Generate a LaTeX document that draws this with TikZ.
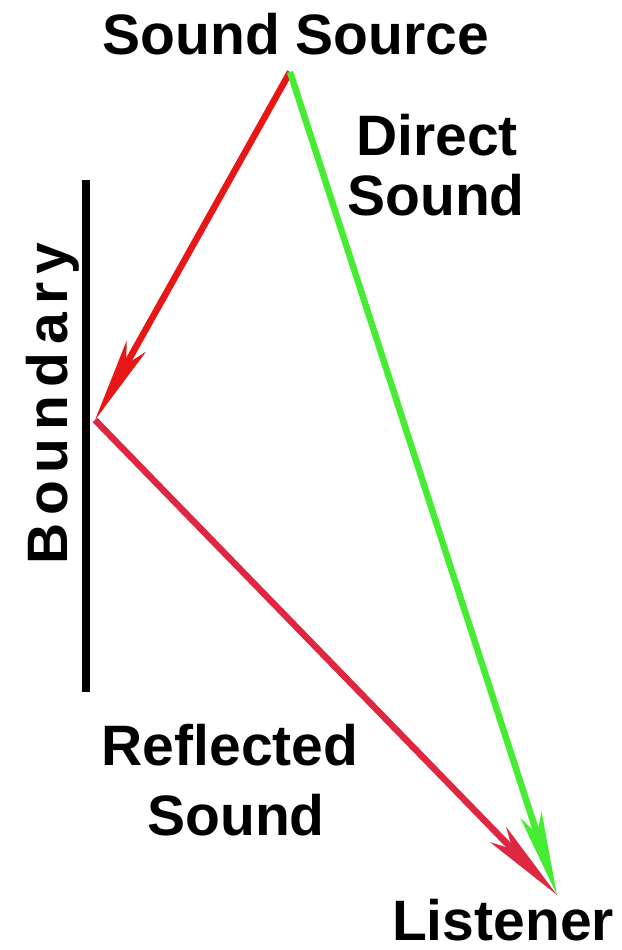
\documentclass[tikz,border=0pt]{standalone}
\usepackage{fontspec}
\setmainfont{Liberation Sans}
\usetikzlibrary{arrows.meta}
\definecolor{incred}{RGB}{232,22,22}
\definecolor{refred}{RGB}{222,40,66}
\definecolor{dirgreen}{RGB}{70,236,50}
\begin{document}
\begin{tikzpicture}[x=1pt,y=-1pt,font=\fontsize{57}{60}\selectfont\bfseries,
  lbl/.style={anchor=base,inner sep=0pt,text depth=0pt},
  ray/.style={line width=6.5pt,-{Stealth[length=84pt,width=22pt,inset=20pt]}}]
  \useasboundingbox (0,0) rectangle (621,950);
  \coordinate (src) at (290,72);
  \coordinate (wall) at (95,420);
  \coordinate (lst) at (557,895);
  \coordinate (btop) at (86,180);
  \coordinate (bbot) at (86,692);
  \draw[line width=8pt] (btop) -- (bbot);
  \draw[ray,incred] (src) -- (wall);
  \draw[ray,refred] (wall) -- (lst);
  \draw[ray,dirgreen] (src) -- (lst);
  \node[lbl] (srclbl) at (296,55) {Sound Source};
  \node[lbl] (dirlbl1) at (437,155) {Direct};
  \node[lbl] (dirlbl2) at (436,215) {Sound};
  \node[lbl,rotate=90] (bndlbl) at (67,404) {\addfontfeature{LetterSpace=14}Boundary};
  \node[lbl] (reflbl1) at (230,765) {Reflected};
  \node[lbl] (reflbl2) at (236,835) {Sound};
  \node[lbl] (lstlbl) at (503,940) {Listener};
\end{tikzpicture}
\end{document}
